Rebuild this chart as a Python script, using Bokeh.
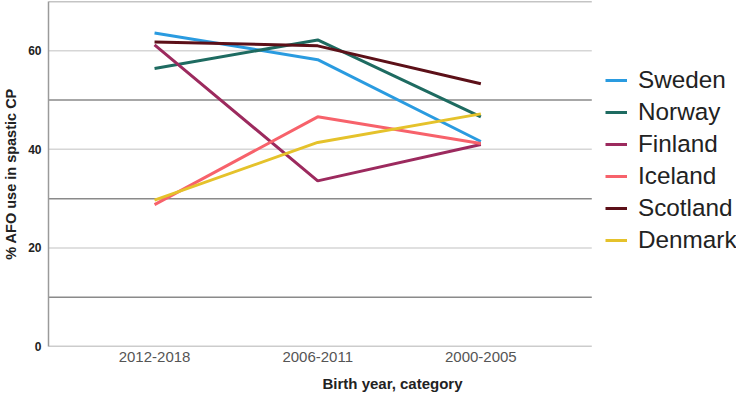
from bokeh.plotting import figure
from bokeh.models import Range1d, FixedTicker, Legend, LegendItem
from bokeh.embed import file_html
from bokeh.resources import INLINE

categories = ["2012-2018", "2006-2011", "2000-2005"]
sweden = [63.6, 58.2, 41.6]
norway = [56.4, 62.2, 46.6]
finland = [61.2, 33.6, 41.0]
iceland = [28.8, 46.6, 41.2]
scotland = [61.8, 61.0, 53.3]
denmark = [29.7, 41.4, 47.2]
series_names = ["Sweden", "Norway", "Finland", "Iceland", "Scotland", "Denmark"]
series_values = [sweden, norway, finland, iceland, scotland, denmark]
colors = ["#2a9be0", "#1e6b61", "#9c2a5e", "#f7626b", "#5c1018", "#e5c22b"]
y_ticks = [0, 20, 40, 60]
y_light_lines = [20, 40, 60]
y_dark_lines = [10, 30, 50, 70]

xs = list(range(len(categories)))
x_start = -0.65
x_end = 3.567            # frame extends under the legend area
grid_end = len(categories) - 1 + 0.68

p = figure(width=736, height=396, output_backend="svg", toolbar_location=None,
           x_range=Range1d(x_start, x_end), y_range=Range1d(0, 70),
           min_border_left=42, min_border_right=0, min_border_top=1, min_border_bottom=50)
p.outline_line_color = None
p.background_fill_color = "white"
p.border_fill_color = "white"
p.xgrid.visible = False
p.ygrid.visible = False

# gridlines drawn only across the plotting area
p.segment(x0=[x_start] * len(y_light_lines), x1=[grid_end] * len(y_light_lines),
          y0=y_light_lines, y1=y_light_lines, line_color="#d6d6d6", line_width=1.5)
p.segment(x0=[x_start] * len(y_dark_lines), x1=[grid_end] * len(y_dark_lines),
          y0=y_dark_lines, y1=y_dark_lines, line_color="#8a8a8a", line_width=1.5)
# x axis baseline
p.segment(x0=[x_start], x1=[grid_end], y0=[0], y1=[0], line_color="#9a9a9a", line_width=1.5)

# axes
p.xaxis.ticker = FixedTicker(ticks=xs)
p.xaxis.major_label_overrides = {i: c for i, c in enumerate(categories)}
p.yaxis.ticker = FixedTicker(ticks=y_ticks)
for ax in (p.xaxis[0], p.yaxis[0]):
    ax.major_tick_line_color = None
    ax.minor_tick_line_color = None
    ax.major_tick_out = 0
    ax.major_tick_in = 0
    ax.minor_tick_out = 0
    ax.minor_tick_in = 0
    ax.axis_line_color = "#9a9a9a"
    ax.axis_line_width = 1.5
    ax.axis_label_text_font = "Liberation Sans"
    ax.axis_label_text_font_style = "bold"
    ax.axis_label_text_color = "#222222"
    ax.major_label_text_font = "Liberation Sans"
p.xaxis.axis_line_color = None

p.xaxis.axis_label = "Birth year, category"
p.xaxis.axis_label_text_font_size = "15px"
p.xaxis.major_label_text_font_size = "15px"
p.xaxis.major_label_text_color = "#555555"
p.xaxis.major_label_standoff = 5
p.xaxis.axis_label_standoff = 10

p.yaxis.axis_label = "% AFO use in spastic CP"
p.yaxis.axis_label_text_font_size = "14.5px"
p.yaxis.major_label_text_font_size = "12px"
p.yaxis.major_label_text_font_style = "bold"
p.yaxis.major_label_text_color = "#222222"
p.yaxis.major_label_standoff = 7
p.yaxis.axis_label_standoff = 6

items = []
for name, vals, col in zip(series_names, series_values, colors):
    r = p.line(xs, vals, line_color=col, line_width=3)
    items.append(LegendItem(label=name, renderers=[r]))

legend = Legend(items=items, location=(557, 90), orientation="vertical",
                label_text_font="Liberation Sans", label_text_font_size="24.3px",
                label_text_color="#222222", glyph_width=22, glyph_height=32,
                label_height=32, label_standoff=11, spacing=0, padding=0,
                margin=0, border_line_color=None, background_fill_alpha=0)
p.add_layout(legend, "center")

open("out.html", "w").write(file_html(p, INLINE))
